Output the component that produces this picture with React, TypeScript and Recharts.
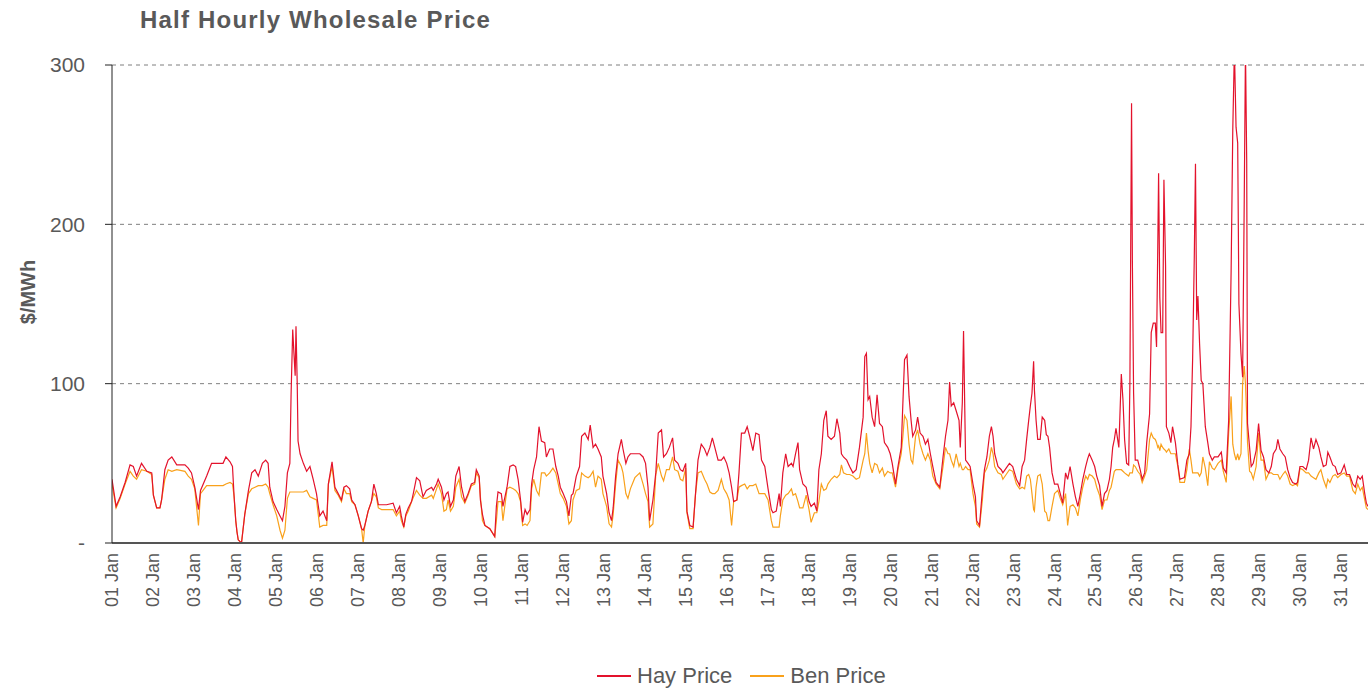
import React from "react";
import { LineChart, Line, XAxis, YAxis, CartesianGrid } from "recharts";

// time in days since 01 Jan 00:00, prices in $/MWh
const dayOffsets = [
  0.0, 0.1, 0.2, 0.32, 0.44, 0.52, 0.6, 0.72, 0.85, 0.97, 1.01, 1.09, 1.17, 1.21, 1.29, 1.37, 1.46, 1.58, 1.78, 1.86, 1.94, 2.02, 2.11, 2.16, 2.31, 2.43,
  2.55, 2.71, 2.78, 2.88, 2.94, 2.98, 3.02, 3.05, 3.08, 3.16, 3.24, 3.33, 3.41, 3.49, 3.57, 3.67, 3.75, 3.81, 3.85, 3.93, 4.02, 4.1, 4.16, 4.22, 4.28, 4.34,
  4.37, 4.41, 4.44, 4.47, 4.49, 4.52, 4.54, 4.59, 4.67, 4.75, 4.83, 4.91, 4.99, 5.07, 5.15,
  5.24, 5.28, 5.37, 5.44, 5.52, 5.6, 5.66, 5.72, 5.8, 5.85, 5.93, 6.01, 6.09, 6.13, 6.17, 6.25, 6.33, 6.39, 6.45, 6.5, 6.58, 6.7, 6.86, 6.94, 7.02, 7.06,
  7.12, 7.17, 7.23, 7.31, 7.36, 7.43, 7.51, 7.59, 7.67, 7.8,
  7.84, 7.92, 7.96, 8.04, 8.1, 8.16, 8.2, 8.26, 8.33, 8.39, 8.47, 8.53, 8.61, 8.69, 8.77, 8.85, 8.89, 8.96, 8.99, 9.04, 9.1, 9.22, 9.34, 9.38, 9.42, 9.5,
  9.54, 9.64, 9.71, 9.79, 9.85, 9.91, 9.97, 10.02, 10.08, 10.13, 10.2, 10.24, 10.29, 10.36, 10.42, 10.48, 10.56,
  10.6, 10.68, 10.76, 10.83, 10.89, 10.94, 11.01, 11.09, 11.15, 11.21, 11.25, 11.33, 11.41, 11.46, 11.54, 11.62, 11.67, 11.74, 11.8, 11.86, 11.94, 11.98,
  12.07, 12.13, 12.19, 12.23, 12.29, 12.35, 12.43, 12.47, 12.54, 12.59, 12.65, 12.76, 12.88, 12.96, 13.02, 13.08, 13.12, 13.2,
  13.27, 13.33, 13.41, 13.46, 13.53, 13.6, 13.68, 13.73, 13.81, 13.87, 13.93, 14.0, 14.03, 14.1, 14.18, 14.24, 14.3, 14.38, 14.46, 14.52, 14.59, 14.65,
  14.71, 14.79, 14.87, 14.93, 15.0, 15.06, 15.12, 15.17, 15.25, 15.3, 15.36, 15.44, 15.5, 15.56, 15.64, 15.71, 15.79, 15.85, 15.93,
  16.01, 16.09, 16.13, 16.21, 16.28, 16.31, 16.37, 16.44, 16.5, 16.58, 16.62, 16.68, 16.74, 16.78, 16.86, 16.94, 17.01, 17.06, 17.14, 17.2, 17.25, 17.31,
  17.37, 17.43, 17.47, 17.55, 17.63, 17.69, 17.76, 17.8, 17.85, 17.93, 18.0, 18.08, 18.16, 18.24, 18.33, 18.37, 18.41, 18.45,
  18.49, 18.55, 18.61, 18.67, 18.73, 18.8, 18.85, 18.93, 18.99, 19.04, 19.12, 19.18, 19.26, 19.3, 19.34, 19.4, 19.45, 19.5, 19.54, 19.61, 19.66, 19.72,
  19.79, 19.85, 19.91, 19.97, 20.03, 20.11, 20.2, 20.28, 20.34, 20.4, 20.44, 20.48, 20.54, 20.6, 20.67, 20.7, 20.75, 20.78, 20.83, 20.89, 20.94, 21.01,
  21.07, 21.1, 21.17, 21.24,
  21.29, 21.35, 21.41, 21.46, 21.5, 21.54, 21.62, 21.7, 21.74, 21.82, 21.9, 21.98, 22.07, 22.15, 22.21, 22.27, 22.32, 22.37, 22.41, 22.45, 22.49, 22.51,
  22.55, 22.59, 22.65, 22.7, 22.76, 22.8, 22.84, 22.88, 22.94, 23.0, 23.08, 23.14, 23.2, 23.27, 23.32, 23.38, 23.45, 23.51, 23.57, 23.63, 23.69, 23.76,
  23.81, 23.85, 23.92, 23.98, 24.03,
  24.1, 24.16, 24.22, 24.28, 24.34, 24.38, 24.42, 24.46, 24.5, 24.57, 24.63, 24.67, 24.71, 24.76, 24.81, 24.84, 24.88, 24.9, 24.93, 24.97, 25.03, 25.09,
  25.14, 25.2, 25.25, 25.32, 25.36, 25.41, 25.46, 25.49, 25.52, 25.54, 25.57, 25.6, 25.64, 25.67, 25.71, 25.73, 25.79, 25.84, 25.88, 25.95, 26.01, 26.06,
  26.17, 26.23, 26.29, 26.33, 26.37, 26.41, 26.44, 26.47, 26.5, 26.54, 26.58, 26.62, 26.68, 26.74, 26.78, 26.85, 26.9, 26.99, 27.07, 27.12, 27.19, 27.25,
  27.31, 27.35, 27.39, 27.43, 27.47, 27.5, 27.55, 27.59, 27.63, 27.66, 27.69, 27.71,
  27.76, 27.8, 27.85, 27.92, 27.98, 28.04, 28.1, 28.16, 28.23, 28.29, 28.34, 28.41, 28.45, 28.5, 28.57, 28.63, 28.69, 28.75, 28.81, 28.89, 28.93, 28.99,
  29.06, 29.14, 29.2, 29.26, 29.32, 29.38, 29.45, 29.5, 29.56, 29.63, 29.67, 29.72, 29.79, 29.85, 29.91, 29.99, 30.07, 30.13, 30.2, 30.28, 30.34, 30.4,
  30.46, 30.51, 30.57, 30.61, 30.65,
];

const hayPrice = [
  40, 23, 29, 38, 49, 48, 42, 50, 45, 44, 30, 22, 22, 27, 46, 52, 54, 49, 49, 47, 44, 35, 21, 33, 42, 50,
  50, 50, 54, 51, 48, 29, 14, 7, 2, 0, 18, 33, 44, 46, 42, 50, 52, 50, 35, 26, 21, 17, 14, 23, 44, 50,
  93, 134, 119, 105, 136, 100, 64, 56, 50, 45, 48, 40, 31, 17, 20,
  14, 37, 51, 35, 31, 27, 35, 36, 34, 27, 24, 17, 9, 8, 11, 20, 26, 37, 31, 24, 24, 24, 25, 19, 23, 17,
  10, 18, 22, 26, 32, 41, 39, 29, 33, 35,
  33, 37, 40, 35, 27, 31, 32, 23, 27, 42, 48, 35, 26, 31, 37, 38, 46, 42, 27, 18, 11, 9, 4, 23, 32, 31,
  23, 35, 48, 49, 48, 40, 27, 13, 21, 18, 21, 37, 46, 54, 73, 64, 63,
  54, 59, 59, 48, 42, 35, 31, 26, 17, 30, 31, 42, 48, 67, 69, 65, 74, 60, 62, 59, 54, 42,
  31, 19, 14, 22, 42, 56, 65, 59, 50, 54, 56, 56, 56, 54, 50, 35, 14, 27,
  44, 69, 71, 54, 56, 60, 66, 52, 50, 46, 45, 50, 20, 11, 10, 31, 52, 62, 59, 55, 60, 66,
  60, 52, 52, 54, 50, 44, 35, 26, 27, 44, 69, 69, 73, 67, 58, 69, 68, 52, 48,
  34, 21, 19, 20, 31, 23, 44, 56, 48, 50, 48, 56, 63, 46, 37, 35, 26, 23, 25, 20, 46, 56,
  77, 83, 67, 65, 67, 78, 69, 56, 54, 52, 48, 44, 46, 60, 79, 117, 119, 90,
  92, 79, 73, 93, 75, 73, 63, 60, 56, 50, 37, 48, 60, 88, 115, 118, 92, 77, 67, 71, 79, 69,
  67, 62, 65, 56, 48, 38, 35, 54, 67, 77, 101, 86, 88, 83, 77, 60, 88, 133, 52, 50, 48, 37,
  29, 14, 11, 33,
  46, 54, 67, 73, 67, 56, 48, 46, 44, 47, 50, 48, 40, 36, 48, 52, 65, 77, 86, 94, 114, 96,
  77, 65, 65, 79, 77, 68, 67, 60, 44, 37, 37, 31, 25, 44, 40, 48, 37, 29, 23, 31, 40, 48,
  53, 56, 52, 48, 42,
  36, 23, 31, 33, 40, 48, 60, 65, 72, 60, 106, 90, 65, 50, 49, 101, 276, 177, 94, 52, 52, 46,
  40, 44, 63, 81, 132, 138, 138, 123, 186, 232, 154, 132, 132, 228, 174, 73, 69, 63, 73, 63, 49, 40,
  41, 52, 56, 73, 115, 178, 238, 140, 155, 125, 102, 100, 73, 63, 56, 52, 54, 54, 57, 47, 44, 77,
  171, 259, 310, 261, 251, 150, 119, 104, 215, 310, 240, 75,
  60, 48, 50, 58, 75, 58, 54, 46, 44, 48, 56, 59, 65, 59, 56, 54, 46, 41, 38, 37, 38, 48,
  48, 46, 52, 66, 59, 65, 60, 54, 48, 49, 57, 54, 49, 48, 43, 44, 49, 43, 43, 37, 35, 42,
  40, 42, 31, 25, 23,
];

const benPrice = [
  37, 22, 28, 37, 45, 42, 40, 46, 45, 43, 30, 22, 22, 27, 40, 46, 45, 46, 45, 42, 40, 34, 11, 31, 36, 36,
  36, 36, 37, 38, 37, 29, 14, 7, 2, 0, 18, 31, 34, 35, 36, 36, 37, 35, 31, 24, 17, 8, 3, 8, 28, 32,
  32, 32, 32, 32, 32, 32, 32, 32, 32, 33, 29, 28, 27, 10, 11,
  11, 37, 48, 33, 30, 26, 34, 31, 31, 26, 24, 17, 9, 0, 11, 20, 26, 31, 29, 22, 21, 21, 21, 17, 20, 14,
  10, 17, 20, 26, 29, 33, 30, 28, 28, 30,
  28, 34, 37, 31, 20, 21, 27, 20, 23, 35, 40, 29, 25, 30, 36, 37, 44, 41, 29, 14, 11, 9, 4, 14, 26, 26,
  14, 34, 35, 34, 33, 31, 26, 11, 12, 11, 14, 34, 40, 33, 30, 44, 44,
  42, 44, 47, 44, 37, 31, 28, 23, 12, 14, 27, 33, 34, 44, 42, 41, 42, 45, 35, 42, 40, 31,
  23, 12, 10, 18, 37, 52, 48, 44, 31, 28, 34, 41, 44, 37, 31, 26, 10, 12,
  43, 50, 42, 39, 46, 46, 54, 46, 45, 40, 39, 47, 19, 9, 9, 31, 44, 45, 40, 37, 32, 31,
  31, 33, 40, 34, 31, 27, 11, 26, 27, 35, 36, 37, 34, 36, 36, 37, 31, 31, 31,
  27, 14, 10, 10, 10, 17, 27, 30, 31, 34, 30, 31, 26, 22, 22, 30, 21, 13, 19, 19, 26, 37,
  33, 34, 37, 40, 42, 41, 43, 49, 44, 43, 43, 42, 40, 41, 52, 56, 69, 58,
  50, 44, 50, 49, 44, 47, 42, 45, 44, 44, 35, 46, 56, 67, 80, 77, 62, 52, 50, 67, 71, 62,
  56, 52, 56, 52, 42, 37, 34, 48, 60, 56, 56, 52, 48, 56, 48, 50, 46, 46, 48, 46, 46, 31,
  23, 12, 10, 27,
  44, 47, 52, 60, 56, 48, 44, 43, 40, 43, 46, 45, 37, 34, 35, 34, 42, 43, 40, 31, 21, 20,
  35, 42, 43, 37, 20, 19, 14, 14, 23, 31, 33, 28, 24, 31, 11, 23, 24, 22, 17, 27, 35, 42,
  40, 43, 42, 40, 35,
  30, 21, 27, 27, 33, 35, 40, 45, 46, 46, 46, 45, 44, 43, 42, 44, 44, 44, 49, 48, 45, 43,
  38, 42, 46, 65, 69, 66, 65, 63, 60, 61, 58, 62, 60, 59, 58, 57, 59, 56, 56, 56, 48, 38,
  38, 46, 59, 52, 44, 44, 44, 44, 44, 42, 44, 54, 47, 36, 51, 47, 46, 50, 52, 45, 38, 69,
  92, 62, 56, 52, 56, 52, 56, 100, 111, 100, 80, 63,
  45, 44, 40, 48, 69, 52, 52, 40, 44, 44, 43, 43, 43, 40, 43, 45, 42, 37, 36, 37, 36, 47,
  46, 44, 44, 42, 41, 40, 44, 46, 40, 35, 40, 38, 42, 43, 41, 43, 44, 42, 42, 33, 31, 37,
  33, 35, 27, 22, 21,
];

const dayLabels = [
  "01 Jan", "02 Jan", "03 Jan", "04 Jan", "05 Jan", "06 Jan", "07 Jan", "08 Jan", "09 Jan", "10 Jan",
  "11 Jan", "12 Jan", "13 Jan", "14 Jan", "15 Jan", "16 Jan", "17 Jan", "18 Jan", "19 Jan", "20 Jan",
  "21 Jan", "22 Jan", "23 Jan", "24 Jan", "25 Jan", "26 Jan", "27 Jan", "28 Jan", "29 Jan", "30 Jan", "31 Jan",
];
const priceTicks = [0, 100, 200, 300];

const HAY = "#E3122C";
const BEN = "#F9A11B";
const GREY = "#595959";
const FONT = "'Liberation Sans', Arial, sans-serif";

const data = dayOffsets.map((t, i) => ({ t, hay: hayPrice[i], ben: benPrice[i] }));

function DayTick(props: any) {
  const { x, y, payload } = props;
  return (
    <text
      x={x}
      y={y}
      transform={`rotate(-90, ${x}, ${y})`}
      textAnchor="end"
      dominantBaseline="central"
      fill={GREY}
      fontSize={18}
      fontFamily={FONT}
    >
      {dayLabels[payload.value]}
    </text>
  );
}

export default function App() {
  return (
    <div style={{ position: "absolute", left: 0, top: 0, width: 1368, height: 689, background: "#fff", fontFamily: FONT }}>
      <div
        style={{
          position: "absolute",
          left: 140,
          top: 6,
          fontSize: 24,
          letterSpacing: 1.2,
          fontWeight: "bold",
          color: GREY,
          whiteSpace: "nowrap",
        }}
      >
        Half Hourly Wholesale Price
      </div>
      <div
        style={{
          position: "absolute",
          left: 28,
          top: 292,
          transform: "translate(-50%, -50%) rotate(-90deg)",
          fontSize: 20,
          fontWeight: "bold",
          color: GREY,
          whiteSpace: "nowrap",
        }}
      >
        $/MWh
      </div>
      <LineChart width={1368} height={689} data={data} margin={{ top: 65, right: 0, bottom: 0, left: 52 }}>
        <CartesianGrid horizontal vertical={false} stroke="#7f7f7f" strokeDasharray="4 4" />
        <XAxis
          type="number"
          dataKey="t"
          domain={[0, 30.65]}
          ticks={dayLabels.map((_, i) => i)}
          interval={0}
          height={146}
          axisLine={{ stroke: "#555", strokeWidth: 2 }}
          tickLine={false}
          tickMargin={4}
          tick={<DayTick />}
          allowDataOverflow
        />
        <YAxis
          type="number"
          domain={[0, 300]}
          ticks={priceTicks}
          width={60}
          allowDataOverflow
          axisLine={{ stroke: "#222" }}
          tickLine={{ stroke: "#222" }}
          tickSize={7}
          tickMargin={20}
          tickFormatter={(v: number) => (v === 0 ? "-" : String(v))}
          tick={{ fill: GREY, fontSize: 21, fontFamily: FONT }}
        />
        <Line type="linear" dataKey="ben" stroke={BEN} strokeWidth={1.2} dot={false} isAnimationActive={false} />
        <Line type="linear" dataKey="hay" stroke={HAY} strokeWidth={1.2} dot={false} isAnimationActive={false} />
      </LineChart>
      <div style={{ position: "absolute", top: 663, left: 597, display: "flex", alignItems: "center", fontSize: 22, color: GREY }}>
        <span style={{ display: "inline-block", width: 34, height: 2, background: HAY, marginRight: 6 }} />
        <span>Hay Price</span>
        <span style={{ display: "inline-block", width: 34, height: 2, background: BEN, marginLeft: 18, marginRight: 6 }} />
        <span>Ben Price</span>
      </div>
    </div>
  );
}
